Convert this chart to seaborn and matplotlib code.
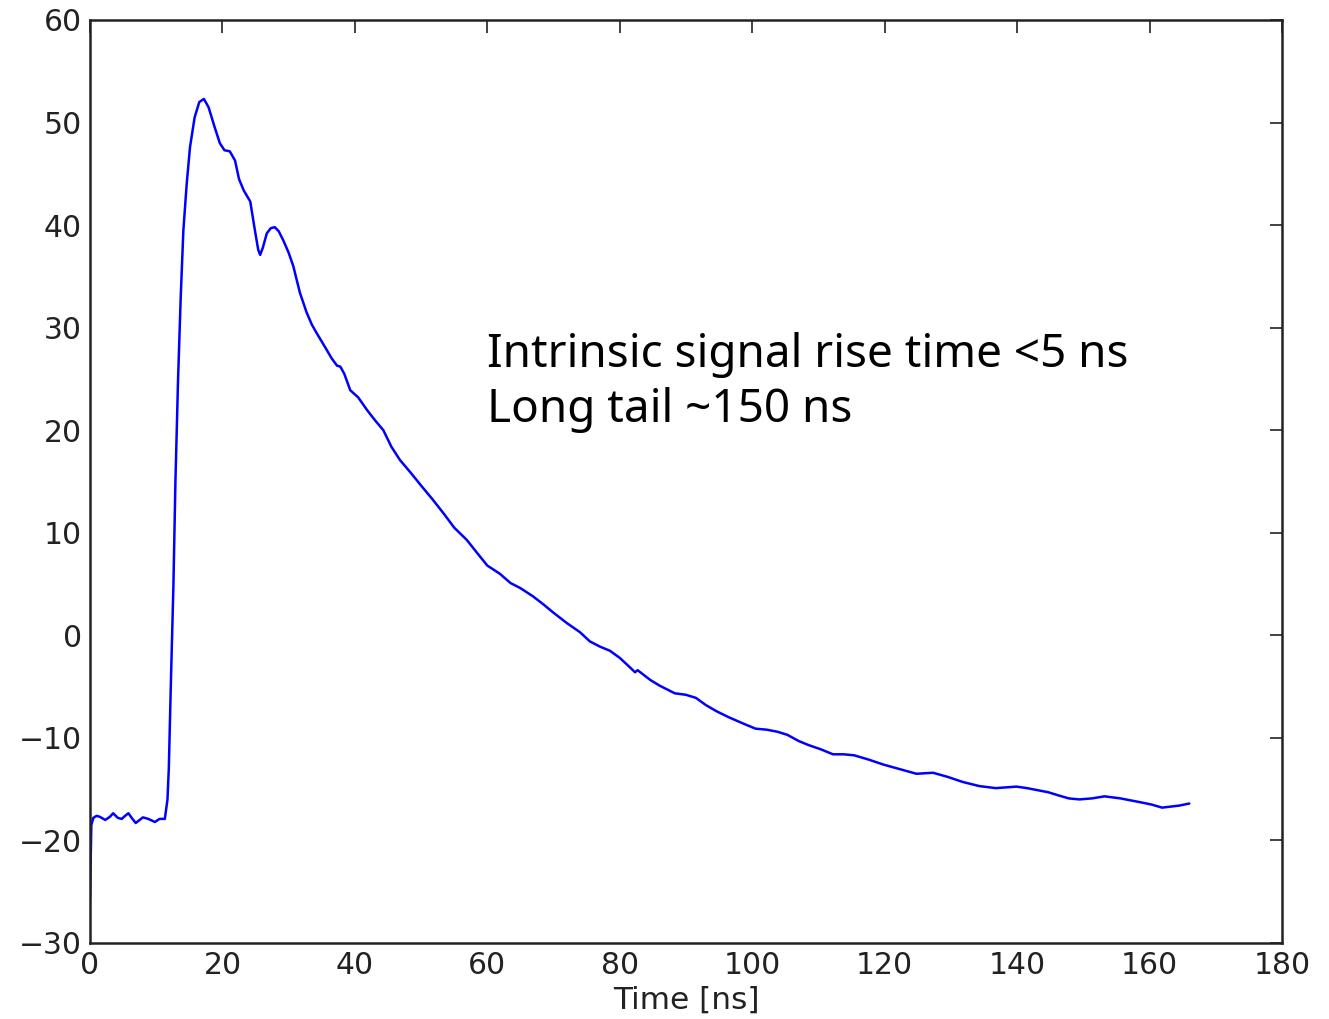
import numpy as np
import pandas as pd
import matplotlib
matplotlib.use("Agg")
import matplotlib.pyplot as plt
import seaborn as sns

time_ns = [0.0, 0.2, 0.5, 1.0, 1.5, 2.3, 3.0, 3.5, 4.2, 4.8, 5.3, 5.8, 6.3, 6.9, 7.5, 8.0,
           8.8, 9.8, 10.5, 11.3, 11.7, 11.9, 12.2, 12.6, 12.9, 13.3, 13.7, 14.1, 14.6, 15.1,
           15.8, 16.5, 17.2, 17.9, 18.8, 19.6, 20.3, 21.1, 21.9, 22.5, 23.2, 24.2, 24.9, 25.4,
           25.7, 26.1, 26.7, 27.3, 27.9, 28.5, 29.2, 30.0, 30.7, 31.7, 32.7, 33.5, 34.2, 35.5,
           36.5, 37.3, 37.8, 38.4, 39.3, 40.5, 41.8, 43.0, 44.3, 45.5, 46.8, 48.5, 50.0, 51.8,
           53.5, 55.0, 56.9, 58.5, 60.0, 61.9, 63.5, 65.0, 66.9, 68.5, 70.0, 72.0, 74.0, 75.5,
           77.0, 78.5, 80.0, 81.5, 82.3, 82.7, 83.3, 84.6, 86.0, 88.3, 90.0, 91.5, 93.0, 94.6,
           96.5, 99.0, 100.5, 102.2, 103.8, 105.3, 107.0, 108.5, 110.3, 112.2, 113.8, 115.4,
           117.5, 119.8, 122.0, 124.8, 127.3, 129.5, 131.8, 134.3, 136.8, 139.9, 141.5, 143.1,
           144.7, 146.2, 147.8, 149.4, 151.3, 153.2, 155.6, 157.2, 158.8, 160.3, 161.9, 163.2,
           164.5, 166.0]

signal = [-25.6, -18.5, -17.8, -17.6, -17.7, -18.0, -17.7, -17.35, -17.8, -17.9, -17.6, -17.35,
          -17.8, -18.3, -18.0, -17.75, -17.9, -18.2, -17.9, -17.9, -16.0, -13.0, -5.0, 5.0,
          15.0, 25.0, 33.0, 39.5, 44.0, 47.6, 50.5, 52.0, 52.3, 51.5, 49.6, 48.0, 47.3, 47.2,
          46.3, 44.5, 43.4, 42.3, 39.5, 37.6, 37.1, 37.8, 39.2, 39.7, 39.8, 39.4, 38.5, 37.3,
          36.0, 33.4, 31.5, 30.3, 29.5, 28.1, 27.0, 26.3, 26.2, 25.5, 23.9, 23.2, 22.0, 21.0,
          20.0, 18.4, 17.1, 15.8, 14.6, 13.2, 11.8, 10.5, 9.3, 8.0, 6.8, 6.0, 5.1, 4.6, 3.8,
          3.0, 2.2, 1.2, 0.3, -0.6, -1.1, -1.5, -2.2, -3.1, -3.6, -3.4, -3.7, -4.35, -4.9,
          -5.65, -5.8, -6.1, -6.8, -7.4, -8.0, -8.7, -9.1, -9.2, -9.4, -9.7, -10.3, -10.7,
          -11.1, -11.6, -11.6, -11.7, -12.1, -12.6, -13.0, -13.5, -13.4, -13.8, -14.3, -14.7,
          -14.9, -14.75, -14.9, -15.1, -15.3, -15.6, -15.9, -16.0, -15.9, -15.7, -15.9, -16.1,
          -16.3, -16.5, -16.8, -16.7, -16.6, -16.4]

x_ticks = [0, 20, 40, 60, 80, 100, 120, 140, 160, 180]
y_ticks = [-30, -20, -10, 0, 10, 20, 30, 40, 50, 60]
annotation = "Intrinsic signal rise time <5 ns\nLong tail ~150 ns"
x_label = "Time [ns]"

df = pd.DataFrame({"time": time_ns, "signal": signal})

sns.set_theme(style="white")
plt.rcParams["font.family"] = ["DejaVu Sans"]

fig = plt.figure(figsize=(13.29, 10.19), dpi=100)
ax = fig.add_axes([90 / 1329, 1 - 943 / 1019, (1282 - 90) / 1329, (943 - 20) / 1019])

sns.lineplot(data=df, x="time", y="signal", ax=ax, color="#0000ff", linewidth=1.8,
             estimator=None, sort=False)

ax.set_xlim(0, 180)
ax.set_ylim(-30, 60)
ax.set_xticks(x_ticks)
ax.set_yticks(y_ticks)
ax.set_xlabel(x_label, fontsize=22.5, color="#222222", labelpad=4)
ax.set_ylabel("")
ax.tick_params(direction="in", length=9, width=1.2, colors="#222222", labelsize=21.5,
               top=True, right=True, pad=6, labelcolor="#222222")
for sp in ax.spines.values():
    sp.set_visible(True)
    sp.set_color("#222222")
    sp.set_linewidth(1.8)

ax.text(60, 20.8, annotation, fontsize=33, family=["Noto Sans", "DejaVu Sans"],
        color="black", ha="left", va="baseline", linespacing=1.25)

fig.savefig("out.png", dpi=100)
